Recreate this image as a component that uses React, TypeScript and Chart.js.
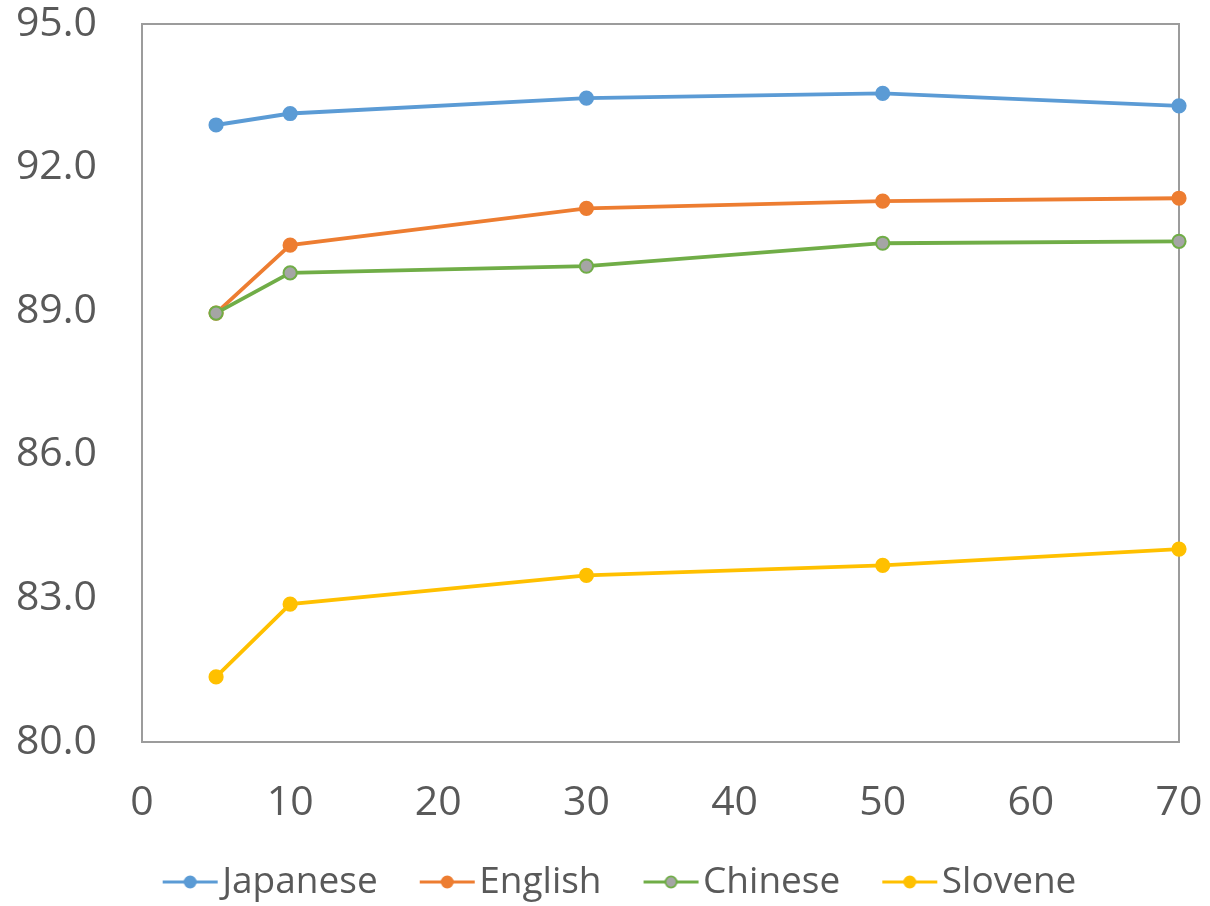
import React, { useEffect, useRef } from "react";
import { Chart, registerables } from "chart.js";

Chart.register(...registerables);

const xValues = [5, 10, 30, 50, 70];
const japanese = [92.89, 93.13, 93.45, 93.55, 93.29];
const english = [88.96, 90.38, 91.15, 91.3, 91.36];
const chinese = [88.96, 89.8, 89.94, 90.42, 90.46];
const slovene = [81.36, 82.88, 83.48, 83.69, 84.03];
const seriesNames = ["Japanese", "English", "Chinese", "Slovene"];
const lineColors = ["#5B9BD5", "#ED7D31", "#70AD47", "#FFC000"];
const markerFills = ["#5B9BD5", "#ED7D31", "#A5A5A5", "#FFC000"];
const yTicks = [80, 83, 86, 89, 92, 95];
const xTicks = [0, 10, 20, 30, 40, 50, 60, 70];

const FONT = "'Open Sans', 'Segoe UI', sans-serif";
const TEXT = "#595959";

// legend icon geometry
const BOX_W = 73;
const LINE_OFF = 32;
const LINE_LEN = 55;
const ICON_W = 2 * (LINE_OFF + LINE_LEN - BOX_W / 2) + 2;

function makeIcon(line: string, fill: string): HTMLCanvasElement {
  const c = document.createElement("canvas");
  c.width = Math.ceil(ICON_W);
  c.height = 20;
  const ctx = c.getContext("2d")!;
  const origin = c.width / 2 - BOX_W / 2;
  const x0 = origin + LINE_OFF;
  ctx.strokeStyle = line;
  ctx.lineWidth = 3.2;
  ctx.beginPath();
  ctx.moveTo(x0, 10);
  ctx.lineTo(x0 + LINE_LEN, 10);
  ctx.stroke();
  ctx.beginPath();
  ctx.arc(x0 + LINE_LEN / 2, 10, 5.6, 0, Math.PI * 2);
  ctx.fillStyle = fill;
  ctx.fill();
  ctx.lineWidth = 1.8;
  ctx.strokeStyle = line;
  ctx.stroke();
  return c;
}

const frame = {
  id: "frame",
  beforeDatasetsDraw(chart: any) {
    const { ctx, chartArea } = chart;
    ctx.save();
    ctx.strokeStyle = "#9C9C9C";
    ctx.lineWidth = 2;
    ctx.strokeRect(chartArea.left, chartArea.top, chartArea.right - chartArea.left, chartArea.bottom - chartArea.top);
    ctx.restore();
  },
};

const legendShift = {
  id: "legendShift",
  afterLayout(chart: any) {
    const lg = chart.legend;
    if (!lg) return;
    const dx = 14;
    const dy = 4.5;
    lg.left += dx;
    lg.right += dx;
    lg.top += dy;
    lg.bottom += dy;
  },
};

export default function App() {
  const ref = useRef<HTMLCanvasElement>(null);
  useEffect(() => {
    const all = [japanese, english, chinese, slovene];
    const icons = all.map((_, i) => makeIcon(lineColors[i], markerFills[i]));
    const chart = new Chart(ref.current!, {
      type: "line",
      data: {
        datasets: all.map((vals, i) => ({
          label: seriesNames[i],
          data: xValues.map((x, j) => ({ x, y: vals[j] })),
          order: all.length - i,
          borderColor: lineColors[i],
          backgroundColor: markerFills[i],
          pointBackgroundColor: markerFills[i],
          pointBorderColor: lineColors[i],
          pointBorderWidth: 2,
          pointRadius: 6.6,
          borderWidth: 3.8,
          tension: 0,
          fill: false,
          clip: false as any,
        })),
      },
      options: {
        animation: false,
        responsive: true,
        maintainAspectRatio: false,
        layout: { padding: { left: 0, right: 31, top: 24, bottom: 0 } },
        plugins: {
          tooltip: { enabled: false },
          legend: {
            position: "bottom",
            labels: {
              usePointStyle: true,
              pointStyleWidth: BOX_W,
              padding: 10,
              color: TEXT,
              font: { family: FONT, size: 37 },
              generateLabels: () =>
                seriesNames.map((n, i) => ({
                  text: n,
                  pointStyle: icons[i] as any,
                  fillStyle: markerFills[i],
                  strokeStyle: lineColors[i],
                  lineWidth: 0,
                  hidden: false,
                  datasetIndex: i,
                  fontColor: TEXT,
                })),
            },
          },
        },
        scales: {
          x: {
            type: "linear",
            min: xTicks[0],
            max: xTicks[xTicks.length - 1],
            afterBuildTicks: (s: any) => {
              s.ticks = xTicks.map((v) => ({ value: v }));
            },
            afterFit: (s: any) => {
              s.height = 107;
              s.paddingLeft = 0;
              s.paddingRight = 0;
            },
            grid: { display: false, drawTicks: false },
            border: { display: false },
            ticks: {
              padding: 37,
              color: TEXT,
              font: { family: FONT, size: 41 },
              maxRotation: 0,
              autoSkip: false,
            },
          },
          y: {
            min: yTicks[0],
            max: yTicks[yTicks.length - 1],
            afterBuildTicks: (s: any) => {
              s.ticks = yTicks.map((v) => ({ value: v }));
            },
            afterFit: (s: any) => {
              s.width = 142;
              s.paddingTop = 0;
              s.paddingBottom = 0;
            },
            grid: { display: false, drawTicks: false },
            border: { display: false },
            ticks: {
              padding: 45,
              color: TEXT,
              font: { family: FONT, size: 41 },
              callback: (v: any) => Number(v).toFixed(1),
            },
          },
        },
      },
      plugins: [frame, legendShift],
    });
    return () => chart.destroy();
  }, []);
  return (
    <div style={{ position: "fixed", left: 0, top: 0, width: 1210, height: 906, background: "#fff" }}>
      <canvas ref={ref} />
    </div>
  );
}
